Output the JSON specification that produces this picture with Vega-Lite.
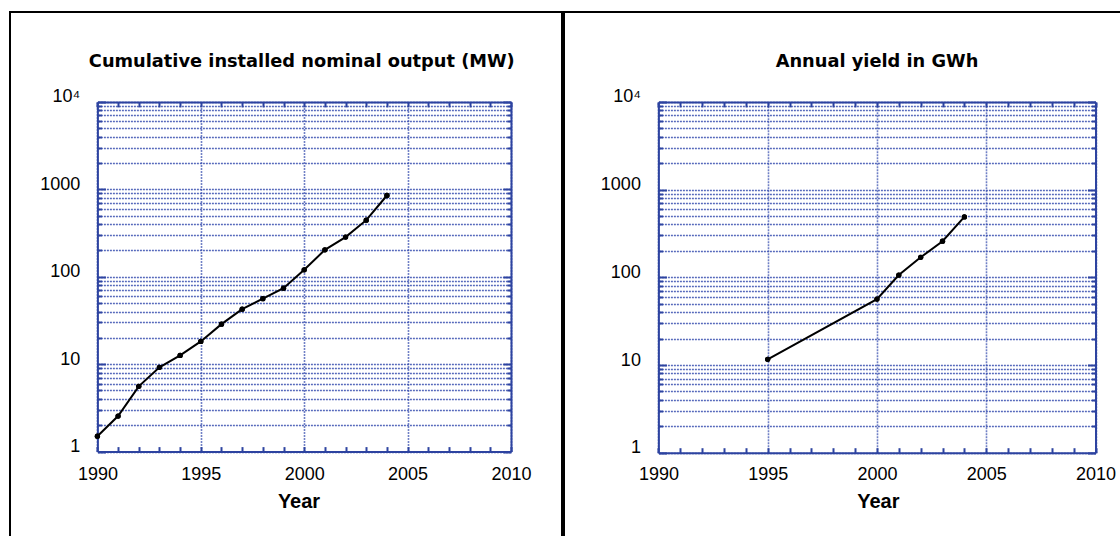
{
  "$schema": "https://vega.github.io/schema/vega-lite/v6.json",
  "padding": {"left": 9, "top": 11, "right": 0, "bottom": 0},
  "background": "white",
  "spacing": 0,
  "datasets": {
    "cum": [
      {"year": 1990, "value": 1.5},
      {"year": 1991, "value": 2.55},
      {"year": 1992, "value": 5.58},
      {"year": 1993, "value": 9.2},
      {"year": 1994, "value": 12.6},
      {"year": 1995, "value": 18.2},
      {"year": 1996, "value": 28.7},
      {"year": 1997, "value": 42.6},
      {"year": 1998, "value": 56.1},
      {"year": 1999, "value": 74},
      {"year": 2000, "value": 120},
      {"year": 2001, "value": 203},
      {"year": 2002, "value": 284},
      {"year": 2003, "value": 444},
      {"year": 2004, "value": 850}
    ],
    "yield": [
      {"year": 1995, "value": 11.6},
      {"year": 2000, "value": 56.4},
      {"year": 2001, "value": 106},
      {"year": 2002, "value": 169},
      {"year": 2003, "value": 258},
      {"year": 2004, "value": 488}
    ]
  },
  "config": {
    "view": {"stroke": "black", "strokeWidth": 2},
    "font": "Liberation Sans",
    "axis": {
      "labelFont": "Liberation Sans", "labelFontSize": 18, "labelColor": "black",
      "domainColor": "#2d43a0", "domainWidth": 2,
      "tickColor": "#2d43a0", "tickWidth": 2,
      "gridColor": "#3a50b0", "gridDash": [2, 1], "gridWidth": 1.6, "gridOpacity": 0.85,
      "labelOverlap": false, "labelFlush": false,
      "titleFont": "Liberation Sans", "titleFontSize": 20, "titleFontWeight": "bold", "titleColor": "black"
    }
  },
  "hconcat": [
    {
      "width": 552, "height": 527,
      "data": {"name": "cum"},
      "title": {"text": "Cumulative installed nominal output (MW)", "font": "DejaVu Sans", "fontSize": 17.8, "fontWeight": "bold", "color": "black", "anchor": "middle", "frame": "group", "offset": -73, "baseline": "alphabetic", "dx": 15.8},
      "layer": [
        {
          "mark": {"type": "line", "color": "black", "strokeWidth": 2},
          "encoding": {
            "x": {"field": "year", "type": "quantitative",
              "scale": {"domain": [1990, 2010], "range": [87.4, 501], "nice": false, "zero": false},
              "axis": {"orient": "bottom", "offset": -87.4, "values": [1990,1991,1992,1993,1994,1995,1996,1997,1998,1999,2000,2001,2002,2003,2004,2005,2006,2007,2008,2009,2010], "format": "d", "labelExpr": "datum.value % 5 == 0 ? datum.label : ''", "ticks": true, "tickSize": -5, "labelPadding": 32.4, "labelBaseline": "alphabetic", "grid": false, "domain": true, "title": "Year", "titleBaseline": "alphabetic", "titleY": 55.4, "titleX": 288.5}},
            "y": {"field": "value", "type": "quantitative",
              "scale": {"type": "log", "domain": [1, 10000], "range": [439.6, 89.9], "nice": false},
              "axis": {"orient": "left", "offset": -87.4, "values": [1,2,3,4,5,6,7,8,9,10,20,30,40,50,60,70,80,90,100,200,300,400,500,600,700,800,900,1000,2000,3000,4000,5000,6000,7000,8000,9000,10000], "labels": false, "ticks": true, "tickSize": {"condition": {"test": "abs(log(datum.value)/LN10 - round(log(datum.value)/LN10)) < 0.001", "value": -8}, "value": -4}, "domain": true, "grid": true, "title": null}}
          }
        },
        {
          "mark": {"type": "point", "filled": true, "color": "black", "size": 28, "opacity": 1},
          "encoding": {
            "x": {"field": "year", "type": "quantitative",
              "scale": {"domain": [1990, 2010], "range": [87.4, 501], "nice": false, "zero": false},
              "axis": {"orient": "top", "offset": -89.9, "values": [1990,1991,1992,1993,1994,1995,1996,1997,1998,1999,2000,2001,2002,2003,2004,2005,2006,2007,2008,2009,2010], "labels": false, "ticks": true, "tickSize": -5, "domain": true, "grid": true, "gridOpacity": {"condition": {"test": "datum.value % 5 == 0", "value": 0.85}, "value": 0}, "title": null}},
            "y": {"field": "value", "type": "quantitative",
              "scale": {"type": "log", "domain": [1, 10000], "range": [439.6, 89.9], "nice": false},
              "axis": {"orient": "right", "offset": -51, "values": [1,2,3,4,5,6,7,8,9,10,20,30,40,50,60,70,80,90,100,200,300,400,500,600,700,800,900,1000,2000,3000,4000,5000,6000,7000,8000,9000,10000], "labels": false, "ticks": true, "tickSize": {"condition": {"test": "abs(log(datum.value)/LN10 - round(log(datum.value)/LN10)) < 0.001", "value": -8}, "value": -4}, "domain": true, "grid": false, "title": null}}
          }
        },
        {
          "mark": {"type": "point", "filled": true, "color": "black", "size": 28, "opacity": 1},
          "encoding": {
            "x": {"field": "year", "type": "quantitative",
              "scale": {"domain": [1990, 2010], "range": [87.4, 501], "nice": false, "zero": false},
              "axis": null},
            "y": {"field": "value", "type": "quantitative",
              "scale": {"type": "log", "domain": [1, 10000], "range": [439.6, 89.9], "nice": false},
              "axis": {"orient": "left", "offset": -87.4, "values": [1, 10, 100, 1000, 10000], "format": "d", "labelExpr": "datum.value == 10000 ? '10⁴' : datum.label", "ticks": false, "domain": false, "grid": false, "labelPadding": 17.6, "labelBaseline": "alphabetic", "title": null}}
          }
        }
      ],
      "resolve": {"axis": {"x": "independent", "y": "independent"}}
    },
    {
      "width": 570, "height": 527,
      "data": {"name": "yield"},
      "title": {"text": "Annual yield in GWh", "font": "DejaVu Sans", "fontSize": 17.8, "fontWeight": "bold", "color": "black", "anchor": "middle", "frame": "group", "offset": -73, "baseline": "alphabetic", "dx": 28},
      "layer": [
        {
          "mark": {"type": "line", "color": "black", "strokeWidth": 2},
          "encoding": {
            "x": {"field": "year", "type": "quantitative",
              "scale": {"domain": [1990, 2010], "range": [94.4, 531.5], "nice": false, "zero": false},
              "axis": {"orient": "bottom", "offset": -86.3, "values": [1990,1991,1992,1993,1994,1995,1996,1997,1998,1999,2000,2001,2002,2003,2004,2005,2006,2007,2008,2009,2010], "format": "d", "labelExpr": "datum.value % 5 == 0 ? datum.label : ''", "ticks": true, "tickSize": -5, "labelPadding": 31.5, "labelBaseline": "alphabetic", "grid": false, "domain": true, "title": "Year", "titleBaseline": "alphabetic", "titleY": 54.3, "titleX": 313.8}},
            "y": {"field": "value", "type": "quantitative",
              "scale": {"type": "log", "domain": [1, 10000], "range": [440.7, 89.9], "nice": false},
              "axis": {"orient": "left", "offset": -94.4, "values": [1,2,3,4,5,6,7,8,9,10,20,30,40,50,60,70,80,90,100,200,300,400,500,600,700,800,900,1000,2000,3000,4000,5000,6000,7000,8000,9000,10000], "labels": false, "ticks": true, "tickSize": {"condition": {"test": "abs(log(datum.value)/LN10 - round(log(datum.value)/LN10)) < 0.001", "value": -8}, "value": -4}, "domain": true, "grid": true, "title": null}}
          }
        },
        {
          "mark": {"type": "point", "filled": true, "color": "black", "size": 28, "opacity": 1},
          "encoding": {
            "x": {"field": "year", "type": "quantitative",
              "scale": {"domain": [1990, 2010], "range": [94.4, 531.5], "nice": false, "zero": false},
              "axis": {"orient": "top", "offset": -89.9, "values": [1990,1991,1992,1993,1994,1995,1996,1997,1998,1999,2000,2001,2002,2003,2004,2005,2006,2007,2008,2009,2010], "labels": false, "ticks": true, "tickSize": -5, "domain": true, "grid": true, "gridOpacity": {"condition": {"test": "datum.value % 5 == 0", "value": 0.85}, "value": 0}, "title": null}},
            "y": {"field": "value", "type": "quantitative",
              "scale": {"type": "log", "domain": [1, 10000], "range": [440.7, 89.9], "nice": false},
              "axis": {"orient": "right", "offset": -38.5, "values": [1,2,3,4,5,6,7,8,9,10,20,30,40,50,60,70,80,90,100,200,300,400,500,600,700,800,900,1000,2000,3000,4000,5000,6000,7000,8000,9000,10000], "labels": false, "ticks": true, "tickSize": {"condition": {"test": "abs(log(datum.value)/LN10 - round(log(datum.value)/LN10)) < 0.001", "value": -8}, "value": -4}, "domain": true, "grid": false, "title": null}}
          }
        },
        {
          "mark": {"type": "point", "filled": true, "color": "black", "size": 28, "opacity": 1},
          "encoding": {
            "x": {"field": "year", "type": "quantitative",
              "scale": {"domain": [1990, 2010], "range": [94.4, 531.5], "nice": false, "zero": false},
              "axis": null},
            "y": {"field": "value", "type": "quantitative",
              "scale": {"type": "log", "domain": [1, 10000], "range": [440.7, 89.9], "nice": false},
              "axis": {"orient": "left", "offset": -94.4, "values": [1, 10, 100, 1000, 10000], "format": "d", "labelExpr": "datum.value == 10000 ? '10⁴' : datum.label", "ticks": false, "domain": false, "grid": false, "labelPadding": 18, "labelBaseline": "alphabetic", "title": null}}
          }
        }
      ],
      "resolve": {"axis": {"x": "independent", "y": "independent"}}
    }
  ]
}
